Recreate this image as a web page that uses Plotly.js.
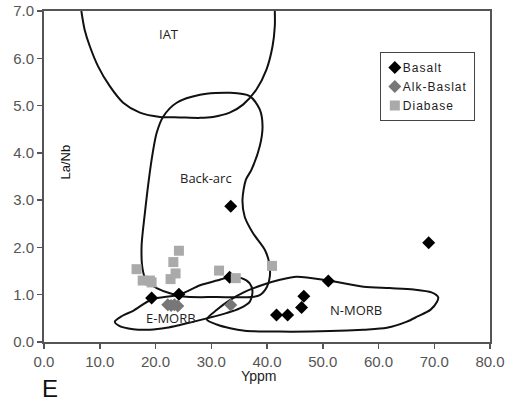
<!DOCTYPE html>
<html><head><meta charset="utf-8">
<script src="https://cdn.plot.ly/plotly-3.0.1.min.js"></script>
<style>body{margin:0;background:#fff}#c{width:524px;height:406px}.legendtext{letter-spacing:1px}</style>
</head><body><div id="c"></div>
<script>
// Samples
const basaltX = [19.3, 24.2, 33.5, 33.3, 41.7, 43.7, 46.2, 46.6, 51.0, 69.0];
const basaltY = [0.93, 1.01, 2.87, 1.37, 0.57, 0.57, 0.73, 0.97, 1.29, 2.10];
const alkX = [22.2, 22.8, 23.4, 24.0, 33.5];
const alkY = [0.79, 0.77, 0.79, 0.76, 0.78];
const diaX = [16.6, 17.7, 19.0, 19.3, 24.2, 23.2, 23.6, 22.7, 31.4, 34.4, 40.9];
const diaY = [1.54, 1.30, 1.30, 1.26, 1.93, 1.69, 1.45, 1.33, 1.51, 1.35, 1.61];

// Discrimination field outlines
const iatX = [6.7, 7.3, 8.2, 9.7, 11.8, 14.2, 17.2, 20.8, 24.4, 28.0, 30.3, 33.3, 35.7, 38.1, 39.9, 41.0, 41.4, 41.4];
const iatY = [7.0, 6.6, 6.26, 5.83, 5.41, 5.06, 4.85, 4.76, 4.75, 4.74, 4.76, 4.85, 5.02, 5.34, 5.76, 6.26, 6.68, 7.0];

const backX = [25.0, 22.6, 20.2, 18.4, 17.7, 17.5, 18.1, 18.8, 19.5, 20.2, 21.4, 23.8, 28.0, 33.4, 36.9, 38.7, 39.2, 38.7, 37.2, 36.2, 35.6, 36.0, 37.5, 39.6, 40.4, 40.5, 40.0, 38.7, 37.2, 31.0, 25.0];
const backY = [0.96, 1.03, 1.14, 1.28, 1.53, 2.02, 2.73, 3.43, 4.0, 4.42, 4.77, 5.06, 5.23, 5.27, 5.2, 4.92, 4.56, 4.14, 3.64, 3.43, 3.0, 2.65, 2.30, 1.95, 1.67, 1.38, 1.17, 0.99, 0.95, 0.95, 0.96];

const emorbX = [12.7, 14.0, 16.0, 19.3, 24.2, 28.0, 31.0, 33.3, 35.4, 36.9, 37.4, 36.9, 35.1, 32.7, 29.2, 26.5, 24.4, 22.0, 19.0, 16.0, 13.5, 12.7];
const emorbY = [0.43, 0.55, 0.66, 0.90, 1.00, 1.20, 1.30, 1.37, 1.35, 1.24, 1.07, 0.85, 0.71, 0.61, 0.50, 0.42, 0.36, 0.30, 0.26, 0.27, 0.34, 0.43];

const nmorbX = [29.2, 31.0, 33.4, 36.0, 39.3, 42.5, 45.3, 51.0, 57.3, 62.0, 66.3, 69.5, 70.7, 70.5, 69.3, 67.0, 65.1, 61.5, 57.3, 51.3, 42.3, 36.0, 33.4, 31.0, 29.2];
const nmorbY = [0.48, 0.68, 0.89, 1.06, 1.21, 1.32, 1.38, 1.30, 1.17, 1.14, 1.11, 1.05, 0.95, 0.85, 0.68, 0.54, 0.43, 0.30, 0.26, 0.23, 0.22, 0.24, 0.29, 0.37, 0.48];

const fieldLabels = ["IAT", "Back-arc", "E-MORB", "N-MORB"];
const fieldLabelX = [22.4, 29.0, 22.8, 56.0];
const fieldLabelY = [6.52, 3.47, 0.50, 0.68];

const xTicks = [0, 10, 20, 30, 40, 50, 60, 70, 80];
const yTicks = [0, 1, 2, 3, 4, 5, 6, 7];

const fieldLine = {color: '#111', width: 2, shape: 'spline', smoothing: 0.8};
function field(x, y) {
  return {x: x, y: y, type: 'scatter', mode: 'lines', line: fieldLine, showlegend: false, hoverinfo: 'skip'};
}

const traces = [
  field(iatX, iatY), field(backX, backY), field(emorbX, emorbY), field(nmorbX, nmorbY),
  {x: basaltX, y: basaltY, type: 'scatter', mode: 'markers', name: 'Basalt',
   marker: {symbol: 'diamond', size: 10, color: '#000'}},
  {x: alkX, y: alkY, type: 'scatter', mode: 'markers', name: 'Alk-Baslat',
   marker: {symbol: 'diamond', size: 10, color: '#777'}},
  {x: diaX, y: diaY, type: 'scatter', mode: 'markers', name: 'Diabase',
   marker: {symbol: 'square', size: 10, color: '#aaa'}}
];

const labelFont = {family: 'Open Sans, Liberation Sans, sans-serif', size: 13, color: '#222'};
const annotations = fieldLabels.map((t, i) => ({
  x: fieldLabelX[i], y: fieldLabelY[i], xref: 'x', yref: 'y', text: t, showarrow: false, font: labelFont
}));
annotations.push({x: 3.8, y: 3.8, xref: 'x', yref: 'y', text: 'La/Nb', textangle: -90, showarrow: false,
  font: {family: 'Liberation Sans, Arial, sans-serif', size: 13, color: '#111'}});
annotations.push({x: 0.482, y: -0.104, xref: 'paper', yref: 'paper', xanchor: 'center', yanchor: 'middle',
  text: 'Yppm', showarrow: false, font: {family: 'Liberation Sans, Arial, sans-serif', size: 14, color: '#222'}});
annotations.push({x: 0.013, y: -0.139, xref: 'paper', yref: 'paper', xanchor: 'center', yanchor: 'middle',
  text: 'E', showarrow: false, font: {family: 'Liberation Sans, Arial, sans-serif', size: 24, color: '#111'}});

const axisCommon = {
  showgrid: false, zeroline: false, showline: true, linecolor: '#555', linewidth: 2, mirror: true,
  ticks: 'outside', ticklen: 5, tickwidth: 1.5, tickcolor: '#555', tickformat: '.1f',
  tickfont: {family: 'Liberation Sans, Arial, sans-serif', size: 15, color: '#555'}
};

const layout = {
  width: 524, height: 406,
  margin: {l: 44, r: 34, t: 11, b: 64},
  paper_bgcolor: '#fff', plot_bgcolor: '#fff',
  xaxis: Object.assign({}, axisCommon, {range: [0, 80], tickvals: xTicks}),
  yaxis: Object.assign({}, axisCommon, {range: [0, 7], tickvals: yTicks}),
  showlegend: true,
  legend: {x: 0.753, y: 0.876, xanchor: 'left', yanchor: 'top', bgcolor: '#fff', bordercolor: '#444', borderwidth: 1,
    font: {family: 'Liberation Sans, Arial, sans-serif', size: 12, color: '#222'}, itemwidth: 30, tracegroupgap: 0},
  annotations: annotations
};

Plotly.newPlot('c', traces, layout, {displayModeBar: false, staticPlot: true}).then(gd => {
  // compact legend: symbol close to the text as in the reference
  const leg = gd.querySelector('.legend');
  if (!leg) return;
  let maxW = 0;
  leg.querySelectorAll('.traces').forEach(tr => {
    const pts = tr.querySelector('.legendpoints');
    if (pts) pts.setAttribute('transform', 'translate(-6,0)');
    const txt = tr.querySelector('.legendtext');
    if (txt) {
      txt.setAttribute('x', 22);
      maxW = Math.max(maxW, txt.getComputedTextLength ? txt.getComputedTextLength() : 0);
    }
  });
  const bg = leg.querySelector('.bg');
  if (bg && maxW) bg.setAttribute('width', 22 + maxW + 8);
});
</script></body></html>
